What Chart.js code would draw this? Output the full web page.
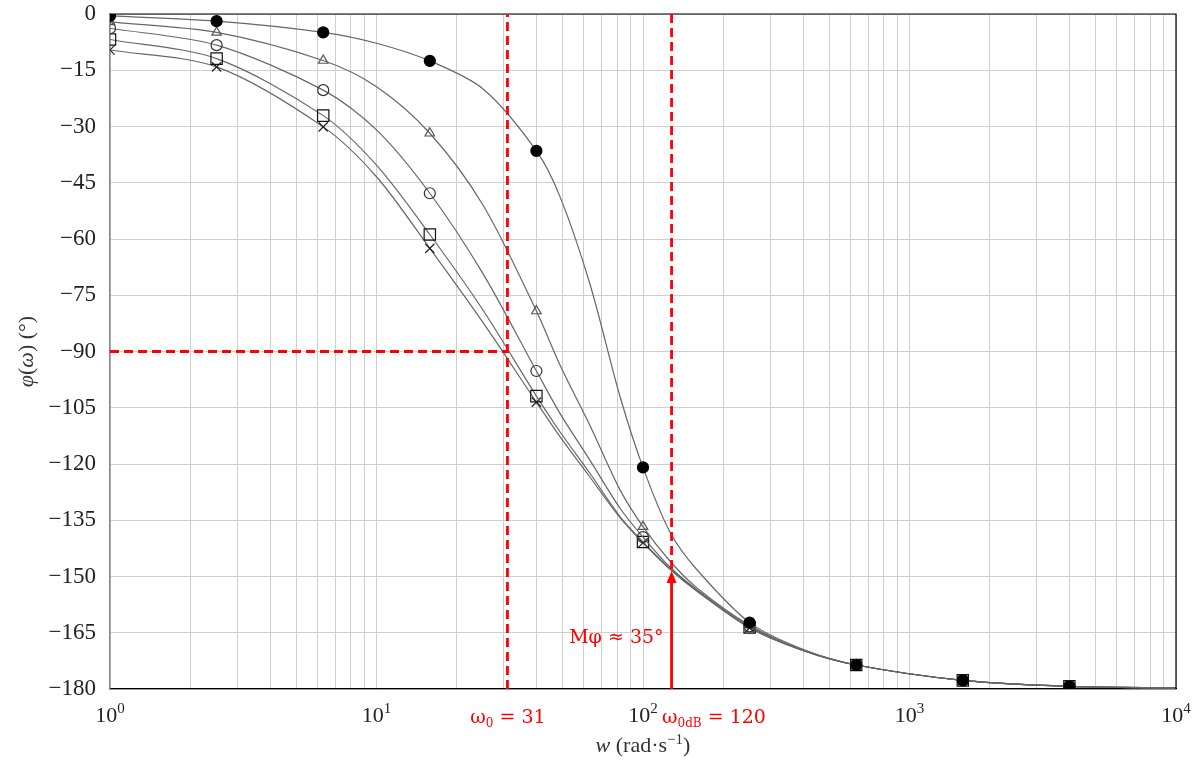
<!DOCTYPE html>
<html>
<head>
<meta charset="utf-8">
<script src="https://cdn.jsdelivr.net/npm/chart.js@4.4.1/dist/chart.umd.min.js"></script>
<style>
  body { margin: 0; background: #fff; }
  #c { display: block; }
</style>
</head>
<body>
<canvas id="c" width="1199" height="760"></canvas>
<script>
// frequencies (rad/s); marked = 1 where a mark is drawn
const freqs  = [1, 2.512, 6.31, 10, 15.85, 25.12, 39.81, 48.8, 63.1, 82, 100, 125.9, 158.5, 251.2, 398.1, 631, 1585, 3981, 10000];
const marked = [1, 1,     1,    0,  1,     0,     1,     0,    0,    0,  1,   0,     0,     1,     0,     1,   1,    1,    0];

// phase (deg)
const phaseA = [-0.5, -1.9, -4.9, -7.8, -12.5, -20.0, -36.5, -48.7, -71.8, -102.0, -120.9, -138.0, -148.0, -162.3, -169.4, -173.6, -177.7, -179.3, -179.7]; // filled circle
const phaseB = [-2.1, -4.9, -12.4, -19.4, -31.8, -51.0, -79.2, -93.6, -109.6, -126.9, -136.7, -145.8, -152.9, -163.0, -169.6, -173.6, -177.7, -179.3, -179.7]; // triangle
const phaseC = [-3.8, -8.3, -20.3, -30.9, -47.8, -69.3, -95.2, -106.5, -118.9, -131.8, -139.5, -147.4, -153.4, -163.3, -169.7, -173.6, -177.7, -179.3, -179.7]; // open circle
const phaseD = [-6.8, -11.9, -27.1, -40.3, -58.8, -79.0, -101.9, -111.4, -122.4, -134.0, -140.8, -147.8, -153.6, -163.6, -169.7, -173.6, -177.7, -179.3, -179.7]; // square
const phaseE = [-9.6, -14.1, -30.1, -43.4, -62.5, -82.3, -103.5, -112.7, -123.4, -134.3, -141.0, -148.0, -153.8, -163.7, -169.7, -173.6, -177.7, -179.3, -179.7]; // cross

const yTicks = [0, -15, -30, -45, -60, -75, -90, -105, -120, -135, -150, -165, -180];
const xDecades = [1, 10, 100, 1000, 10000];
const xExps = ['0', '1', '2', '3', '4'];

// annotations
const w0 = 31;
const wdbPos = 128;        // where the dashed line is drawn
const phiAt90 = -90;
const arrowTip = -148.5;
const marginText = 'Mφ ≈ 35°';

const red = '#ff0000';
const serif = '"Liberation Serif", "DejaVu Serif", serif';

let gridVals = [];
for (let d = 1; d < 10000; d *= 10)
  for (let m = 1; m < 10; m++) gridVals.push(m * d);
gridVals.push(10000);

function pts(arr) { return freqs.map((f, i) => ({x: f, y: arr[i]})); }
function markOnly(r) { return ctx => marked[ctx.dataIndex] ? r : 0; }

function series(arr, style, radius, fill, stroke) {
  return {
    data: pts(arr),
    borderColor: '#666',
    borderWidth: 1.2,
    tension: 0.3,
    pointStyle: style,
    pointRadius: markOnly(radius),
    pointBackgroundColor: fill,
    pointBorderColor: stroke,
    pointBorderWidth: 1.2
  };
}

function runs(ctx, parts, x, y, align) {
  let w = 0;
  parts.forEach(p => { ctx.font = p.f; w += ctx.measureText(p.t).width; });
  let cx = align === 'center' ? x - w / 2 : align === 'right' ? x - w : x;
  parts.forEach(p => {
    ctx.font = p.f;
    ctx.fillText(p.t, cx, y + (p.dy || 0));
    cx += ctx.measureText(p.t).width;
  });
}

const extras = {
  id: 'extras',
  afterDraw(chart) {
    const {ctx, chartArea: a, scales: {x, y}} = chart;
    ctx.save();
    // box top + right
    ctx.strokeStyle = '#000';
    ctx.lineWidth = 1.2;
    ctx.beginPath();
    ctx.moveTo(a.left, a.top); ctx.lineTo(a.right, a.top); ctx.lineTo(a.right, a.bottom);
    ctx.stroke();

    // red dashed lines
    const px0 = x.getPixelForValue(w0);
    const px1 = x.getPixelForValue(wdbPos);
    const py90 = y.getPixelForValue(phiAt90);
    const pyTip = y.getPixelForValue(arrowTip);
    ctx.strokeStyle = red;
    ctx.lineWidth = 2.8;
    ctx.setLineDash([9, 5]);
    ctx.beginPath();
    ctx.moveTo(px0, a.bottom); ctx.lineTo(px0, a.top);
    ctx.moveTo(a.left, py90); ctx.lineTo(px0, py90);
    ctx.moveTo(px1, a.top); ctx.lineTo(px1, pyTip);
    ctx.stroke();
    ctx.setLineDash([]);
    // arrow
    ctx.beginPath();
    ctx.moveTo(px1, a.bottom); ctx.lineTo(px1, pyTip + 10);
    ctx.stroke();
    ctx.fillStyle = red;
    ctx.beginPath();
    ctx.moveTo(px1, pyTip); ctx.lineTo(px1 - 5, pyTip + 12); ctx.lineTo(px1 + 5, pyTip + 12);
    ctx.closePath(); ctx.fill();

    // red texts
    ctx.textBaseline = 'alphabetic';
    ctx.textAlign = 'left';
    const bigF = '19px "DejaVu Serif", serif', subF = '12px "DejaVu Serif", serif';
    runs(ctx, [{t: marginText, f: bigF}], px1 - 8, y.getPixelForValue(-167.8), 'right');
    runs(ctx, [{t: 'ω', f: bigF}, {t: '0', f: subF, dy: 4}, {t: ' = 31', f: bigF}], 508, 723, 'center');
    runs(ctx, [{t: 'ω', f: bigF}, {t: '0dB', f: subF, dy: 4}, {t: ' = 120', f: bigF}], 662, 723, 'left');

    // x tick labels (10^n)
    ctx.fillStyle = '#222';
    xDecades.forEach((v, i) => {
      runs(ctx, [{t: '10', f: '22px ' + serif}, {t: xExps[i], f: '15px ' + serif, dy: -9}],
        x.getPixelForValue(v), 722, 'center');
    });

    // axis titles
    ctx.fillStyle = '#333';
    const it = 'italic 22px ' + serif, rm = '22px ' + serif;
    runs(ctx, [{t: 'w', f: it}, {t: ' (rad·s', f: rm}, {t: '−1', f: '15px ' + serif, dy: -8}, {t: ')', f: rm}],
      (a.left + a.right) / 2, 752, 'center');
    ctx.translate(33, (a.top + a.bottom) / 2);
    ctx.rotate(-Math.PI / 2);
    runs(ctx, [{t: 'φ', f: it}, {t: '(', f: rm}, {t: 'ω', f: it}, {t: ') (°)', f: rm}], 0, 0, 'center');
    ctx.restore();
  }
};

new Chart(document.getElementById('c'), {
  type: 'line',
  data: {
    datasets: [
      series(phaseA, 'circle', 5.5, '#000', '#000'),
      series(phaseB, 'triangle', 5.5, 'rgba(0,0,0,0)', '#555'),
      series(phaseC, 'circle', 5.5, 'rgba(0,0,0,0)', '#333'),
      series(phaseD, 'rect', 8, 'rgba(0,0,0,0)', '#111'),
      series(phaseE, 'crossRot', 6.5, 'rgba(0,0,0,0)', '#222')
    ]
  },
  options: {
    responsive: false,
    animation: false,
    layout: {padding: {top: 14, right: 23, left: 0, bottom: 0}},
    plugins: {legend: {display: false}, tooltip: {enabled: false}},
    scales: {
      x: {
        type: 'logarithmic',
        min: 1, max: 10000,
        afterBuildTicks: s => { s.ticks = gridVals.map(v => ({value: v})); },
        afterFit: s => { s.height = 71; s.paddingLeft = 0; s.paddingRight = 0; },
        grid: {color: '#cfcfcf', lineWidth: 1, drawTicks: false},
        border: {color: '#000', width: 1.2},
        ticks: {display: false}
      },
      y: {
        type: 'linear',
        min: -180, max: 0,
        afterBuildTicks: s => { s.ticks = yTicks.map(v => ({value: v})); },
        afterFit: s => { s.width = 110; s.paddingTop = 0; s.paddingBottom = 0; },
        grid: {color: '#cfcfcf', lineWidth: 1, drawTicks: false},
        border: {color: '#888', width: 1.5},
        ticks: {
          padding: 14, color: '#222', font: {family: serif, size: 23},
          callback: v => v < 0 ? '−' + (-v) : '0'
        }
      }
    }
  },
  plugins: [extras]
});
</script>
</body>
</html>
